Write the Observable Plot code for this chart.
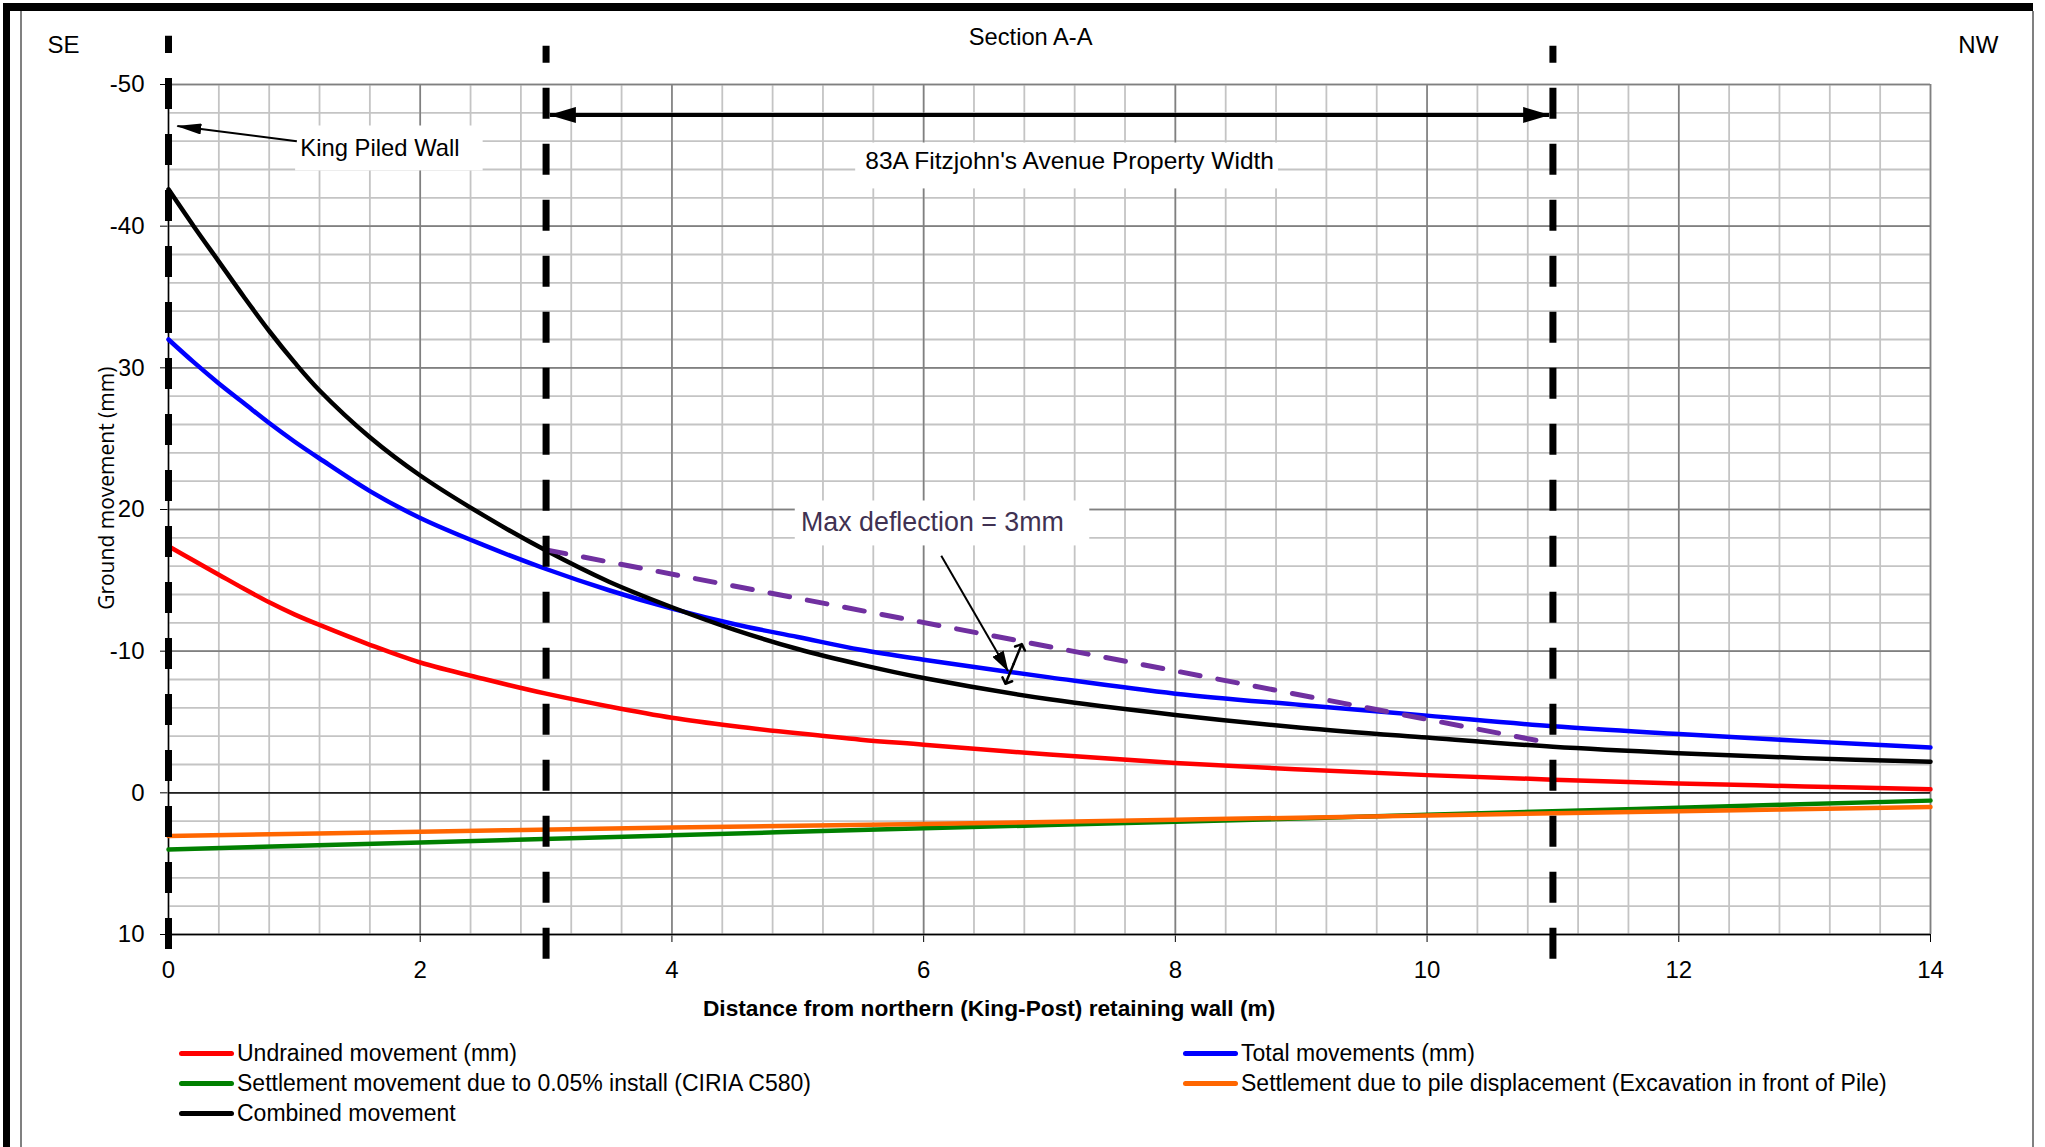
<!DOCTYPE html>
<html><head><meta charset="utf-8">
<script src="https://cdn.jsdelivr.net/npm/d3@7"></script>
<script src="https://cdn.jsdelivr.net/npm/@observablehq/plot@0.6"></script>
<style>
body{margin:0;background:#fff;width:2045px;height:1147px;overflow:hidden;position:relative;font-family:"Liberation Sans",Arial,sans-serif}
#chart{position:absolute;left:0;top:0}
.frame{position:absolute}
#legend{position:absolute;left:0;top:1030px;width:2045px;height:117px}
.li{position:absolute;display:flex;align-items:center;font-size:23px;white-space:nowrap;color:#000;height:30px}
.sw{width:55px;height:5px;border-radius:3px;margin-right:3px;flex:none}
</style></head><body>
<div id="chart"></div>
<div id="legend"></div>
<div class="frame" style="left:3px;top:3px;width:2030px;height:8px;background:#000"></div>
<div class="frame" style="left:3px;top:3px;width:7px;height:1144px;background:#000"></div>
<div class="frame" style="left:20px;top:11px;width:1.5px;height:1136px;background:#808080"></div>
<div class="frame" style="left:2032px;top:11px;width:1.5px;height:1136px;background:#808080"></div>
<script>
// ---------- data ----------
const undrainedX = [0,0.2,0.4,0.6,0.8,1.0,1.2,1.6,2.0,2.5,3.0,3.5,4.0,4.5,5.0,5.5,6.0,7.0,8.0,9.0,10,11,12,13,14];
const undrainedY = [-17.4,-16.4,-15.4,-14.4,-13.45,-12.6,-11.85,-10.45,-9.2,-8.05,-7.0,-6.1,-5.3,-4.7,-4.2,-3.75,-3.4,-2.7,-2.1,-1.65,-1.25,-0.93,-0.66,-0.45,-0.25];
const totalX = [0,0.2,0.4,0.6,0.8,1.0,1.2,1.6,2.0,2.5,3.0,3.5,4.0,4.5,5.0,5.5,6.0,7.0,8.0,9.0,10,11,12,13,14];
const totalY = [-32.0,-30.4,-28.9,-27.5,-26.1,-24.8,-23.6,-21.3,-19.4,-17.5,-15.8,-14.3,-13.0,-11.9,-11.0,-10.1,-9.4,-8.15,-7.0,-6.2,-5.45,-4.7,-4.15,-3.65,-3.2];
const installX = [0,2,4,6,8,10,12,14];
const installY = [4.0,3.5,3.0,2.5,2.05,1.55,1.05,0.55];
const pileX = [0,2,4,6,8,10,12,14];
const pileY = [3.05,2.75,2.45,2.2,1.9,1.6,1.3,1.0];
const combinedX = [0,0.2,0.4,0.6,0.8,1.0,1.2,1.6,2.0,2.5,3.0,3.5,4.0,4.5,5.0,5.5,6.0,7.0,8.0,9.0,10,11,12,13,14];
const combinedY = [-42.6,-40.0,-37.5,-35.0,-32.6,-30.4,-28.4,-25.1,-22.4,-19.6,-17.1,-14.9,-13.1,-11.5,-10.15,-9.05,-8.1,-6.6,-5.5,-4.6,-3.9,-3.25,-2.8,-2.45,-2.2];
const deflectionX = [3.0,10.87];
const deflectionY = [-17.15,-3.7];

const seriesNames = ["Undrained movement (mm)","Total movements (mm)","Settlement movement due to 0.05% install (CIRIA C580)","Settlement due to pile displacement (Excavation in front of Pile)","Combined movement"];
const seriesColors = ["#ff0000","#0000ff","#008000","#ff6600","#000000"];

const xMajor = [0,2,4,6,8,10,12,14];
const yMajor = [-50,-40,-30,-20,-10,0,10];
const xMinor = d3.range(0,14.001,0.4).map(v=>+v.toFixed(1));
const yMinor = d3.range(-50,10.001,2);

// walls (dashed verticals)
const wallX = [0,3,11];
const wallBottom = [11.06,11.74,11.74];
const wallTop = [-53.4,-52.7,-52.7];

// annotation texts
const kingText = "King Piled Wall", kingX = 1.68, kingY = -45.5;
const propText = "83A Fitzjohn's Avenue Property Width", propX = 7.16, propY = -44.6;
const boxX1 = [1.01,5.46,4.98], boxX2 = [2.50,8.82,7.32], boxY1 = [-47.07,-45.87,-20.6], boxY2 = [-43.9,-42.63,-17.43];
const maxText = "Max deflection = 3mm", maxX = 6.07, maxY = -19.1;

// ---------- build ----------
const zip = (xs, ys) => xs.map((x,i)=>({x, y: ys[i]}));
const FONT = '"Liberation Sans",Arial,sans-serif';
const boxes = boxX1.map((v,i)=>({x1:v,x2:boxX2[i],y1:boxY1[i],y2:boxY2[i]}));
const walls = wallX.map((x,i)=>({x, b: wallBottom[i], t: wallTop[i]}));

const series = [
  [undrainedX, undrainedY, 0],
  [totalX, totalY, 1],
  [installX, installY, 2],
  [pileX, pileY, 3],
  [combinedX, combinedY, 4]
];
const one = (t, x, y) => [{t, x, y}];

const plot = Plot.plot({
  width: 2045, height: 1030,
  marginLeft: 168, marginRight: 115, marginTop: 84, marginBottom: 96,
  style: {fontFamily: FONT, fontSize: "24px", background: "transparent", overflow: "visible", color: "#000"},
  x: {domain: [0,14], ticks: xMajor, tickSize: 8, tickPadding: 18, tickFormat: d => String(d), label: null},
  y: {domain: [-50,10], reverse: true, ticks: yMajor, tickSize: 8, tickPadding: 16, tickFormat: d => String(d), label: null},
  marks: [
    Plot.ruleX(xMinor, {stroke: "#c4c4c4", strokeWidth: 1.8}),
    Plot.ruleY(yMinor, {stroke: "#c4c4c4", strokeWidth: 1.8}),
    Plot.ruleX(xMajor, {stroke: "#808080", strokeWidth: 1.6}),
    Plot.ruleY(yMajor, {stroke: "#808080", strokeWidth: 1.6}),
    Plot.ruleY([0, 10], {stroke: "#000", strokeWidth: 1.3}),
    Plot.ruleX([0], {stroke: "#000", strokeWidth: 1.3}),
    Plot.rect(boxes, {x1: "x1", x2: "x2", y1: "y1", y2: "y2", fill: "white"}),
    ...series.map(([xs, ys, k]) => Plot.line(zip(xs, ys), {x: "x", y: "y", stroke: seriesColors[k], strokeWidth: 4.5, curve: "catmull-rom"})),
    Plot.line(zip(deflectionX, deflectionY), {x: "x", y: "y", stroke: "#7030a0", strokeWidth: 5, strokeDasharray: "20,18"}),
    Plot.ruleX(walls, {x: "x", y1: "b", y2: "t", stroke: "#000", strokeWidth: 7, strokeDasharray: "31,25"}),
    // arrows
    Plot.link([{x1: 3.03, x2: 10.97, y: -47.85}], {x1: "x1", x2: "x2", y1: "y", y2: "y", stroke: "#000", strokeWidth: 4, ariaDescription: "property-arrow"}),
    Plot.link([{x1: 1.02, y1: -46.0, x2: 0.07, y2: -47.07}], {x1: "x1", y1: "y1", x2: "x2", y2: "y2", stroke: "#000", strokeWidth: 2, ariaDescription: "king-arrow"}),
    Plot.link([{x1: 6.14, y1: -16.73, x2: 6.67, y2: -8.6}], {x1: "x1", y1: "y1", x2: "x2", y2: "y2", stroke: "#000", strokeWidth: 2, ariaDescription: "max-arrow"}),
    Plot.arrow([{x1: 6.715, y1: -9.1, x2: 6.78, y2: -10.5}, {x1: 6.715, y1: -9.1, x2: 6.65, y2: -7.7}], {x1: "x1", y1: "y1", x2: "x2", y2: "y2", stroke: "#000", strokeWidth: 2.5, headLength: 17, headAngle: 95}),
    // texts
    Plot.text(one(kingText, kingX, kingY), {x: "x", y: "y", text: "t", fontSize: 23.8, fill: "#000"}),
    Plot.text(one(propText, propX, propY), {x: "x", y: "y", text: "t", fontSize: 24.5, fill: "#000"}),
    Plot.text(one(maxText, maxX, maxY), {x: "x", y: "y", text: "t", fontSize: 26.8, fill: "#403152"}),
    Plot.text(one("SE", -0.834, -52.79), {x: "x", y: "y", text: "t", fontSize: 24}),
    Plot.text(one("NW", 14.38, -52.79), {x: "x", y: "y", text: "t", fontSize: 24}),
    Plot.text(one("Section A-A", 6.85, -53.3), {x: "x", y: "y", text: "t", fontSize: 23.7}),
    Plot.text(one("Distance from northern (King-Post) retaining wall (m)", 6.52, 15.22), {x: "x", y: "y", text: "t", fontSize: 22.7, fontWeight: "bold"}),
    Plot.text(one("Ground movement (mm)", -0.49, -21.5), {x: "x", y: "y", text: "t", rotate: -90, fontSize: 21, fontFamily: '"Open Sans",sans-serif', fill: "#000", stroke: "white", strokeWidth: 6})
  ]
});

// filled arrowheads
const svg = d3.select(plot);
const defs = svg.insert("defs", ":first-child");
function marker(id, len, wid) {
  defs.append("marker").attr("id", id)
    .attr("viewBox", `0 0 ${len} ${wid}`).attr("refX", len - 1).attr("refY", wid / 2)
    .attr("markerWidth", len).attr("markerHeight", wid).attr("markerUnits", "userSpaceOnUse")
    .attr("orient", "auto-start-reverse")
    .append("path").attr("d", `M0,0L${len},${wid / 2}L0,${wid}Z`).attr("fill", "#000");
}
marker("headBig", 27, 16);
marker("headKing", 25, 11);
marker("headMax", 21, 13);
svg.select('g[aria-description="property-arrow"]').selectAll("path,line").attr("marker-start", "url(#headBig)").attr("marker-end", "url(#headBig)");
svg.select('g[aria-description="king-arrow"]').selectAll("path,line").attr("marker-end", "url(#headKing)");
svg.select('g[aria-description="max-arrow"]').selectAll("path,line").attr("marker-end", "url(#headMax)");

document.getElementById("chart").appendChild(plot);

// legend (HTML, below the svg)
const legendPos = [[179,23],[1183,23],[179,53],[1183,53],[179,83]];
const legend = document.getElementById("legend");
seriesNames.forEach((name, i) => {
  const d = document.createElement("div");
  d.className = "li";
  d.style.left = legendPos[i][0] + "px";
  d.style.top = (legendPos[i][1] - 15) + "px";
  d.innerHTML = `<span class="sw" style="background:${seriesColors[i]}"></span><span></span>`;
  d.lastChild.textContent = name;
  legend.appendChild(d);
});
</script>
</body></html>
